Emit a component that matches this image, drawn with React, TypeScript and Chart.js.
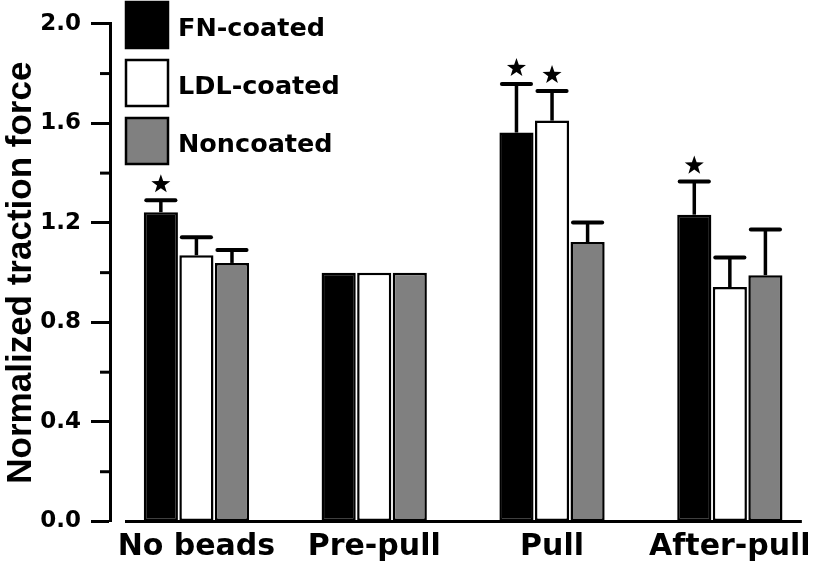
import React, { useEffect, useRef } from "react";
import { Chart, registerables } from "chart.js";

Chart.register(...registerables);

const categories = ["No beads", "Pre-pull", "Pull", "After-pull"];
const seriesNames = ["FN-coated", "LDL-coated", "Noncoated"];
const fnValues = [1.243, 1.0, 1.563, 1.233];
const ldlValues = [1.07, 1.0, 1.611, 0.942];
const nonValues = [1.039, 1.0, 1.123, 0.99];
const fnErrors = [0.048, 0, 0.195, 0.133];
const ldlErrors = [0.072, 0, 0.119, 0.119];
const nonErrors = [0.052, 0, 0.079, 0.183];
const fnStars = [true, false, true, true];
const ldlStars = [false, false, true, false];
const nonStars = [false, false, false, false];
const yTicks = [0, 0.4, 0.8, 1.2, 1.6, 2.0];
const yMinorTicks = [0.2, 0.6, 1.0, 1.4, 1.8];
const fillColors = ["#000000", "#ffffff", "#808080"];

const seriesValues = [fnValues, ldlValues, nonValues];
const seriesErrors = [fnErrors, ldlErrors, nonErrors];
const seriesStars = [fnStars, ldlStars, nonStars];

const FONT = "'DejaVu Sans', sans-serif";

function drawStar(ctx: CanvasRenderingContext2D, cx: number, cy: number, r: number) {
  const inner = r * 0.4;
  ctx.beginPath();
  for (let k = 0; k < 10; k++) {
    const rad = k % 2 === 0 ? r : inner;
    const a = -Math.PI / 2 + (k * Math.PI) / 5;
    const px = cx + rad * Math.cos(a);
    const py = cy + rad * Math.sin(a);
    if (k === 0) ctx.moveTo(px, py);
    else ctx.lineTo(px, py);
  }
  ctx.closePath();
  ctx.fill();
}

const decorPlugin = {
  id: "decor",
  afterDatasetsDraw(chart: any) {
    const { ctx, chartArea, scales } = chart;
    const yScale = scales.y;
    const y0 = yScale.getPixelForValue(0);
    ctx.save();
    ctx.strokeStyle = "#000";
    ctx.fillStyle = "#000";

    // error bars and stars
    seriesValues.forEach((vals, di) => {
      const meta = chart.getDatasetMeta(di);
      meta.data.forEach((el: any, j: number) => {
        const err = seriesErrors[di][j];
        const topY = yScale.getPixelForValue(vals[j] + err);
        const half = el.width / 2;
        if (err > 0) {
          ctx.lineCap = "butt";
          ctx.lineWidth = 3.5;
          ctx.beginPath();
          ctx.moveTo(el.x, el.y);
          ctx.lineTo(el.x, topY);
          ctx.stroke();
          ctx.lineCap = "round";
          ctx.lineWidth = 4;
          ctx.beginPath();
          ctx.moveTo(el.x - half + 2.5, topY);
          ctx.lineTo(el.x + half - 2.5, topY);
          ctx.stroke();
        }
        if (seriesStars[di][j]) {
          drawStar(ctx, el.x, topY - 16, 10);
        }
      });
    });

    // x axis line
    ctx.lineCap = "butt";
    ctx.lineWidth = 3;
    ctx.beginPath();
    ctx.moveTo(chartArea.left + 15, y0);
    ctx.lineTo(chartArea.right, y0);
    ctx.stroke();

    // minor y ticks
    yMinorTicks.forEach((v) => {
      const y = yScale.getPixelForValue(v);
      ctx.beginPath();
      ctx.moveTo(chartArea.left - 10, y);
      ctx.lineTo(chartArea.left, y);
      ctx.stroke();
    });

    // legend
    const bx = chartArea.left + 16;
    ctx.font = `bold 25.5px ${FONT}`;
    ctx.textAlign = "left";
    ctx.textBaseline = "alphabetic";
    seriesNames.forEach((name, i) => {
      const by = 2 + i * 58;
      ctx.fillStyle = fillColors[i];
      ctx.fillRect(bx, by, 42, 46);
      ctx.lineWidth = 2.5;
      ctx.strokeStyle = "#000";
      ctx.strokeRect(bx, by, 42, 46);
      ctx.fillStyle = "#000";
      ctx.fillText(name, bx + 52, by + 34);
    });
    ctx.restore();
  },
};

export default function App() {
  const ref = useRef<HTMLCanvasElement | null>(null);
  useEffect(() => {
    if (!ref.current) return;
    const chart = new Chart(ref.current, {
      type: "bar",
      data: {
        datasets: seriesNames.map((name, i) => ({
          label: name,
          data: seriesValues[i].map((v, j) => ({ x: j, y: v })),
          backgroundColor: fillColors[i],
          borderColor: "#000",
          borderWidth: 2.5,
          borderSkipped: false,
          categoryPercentage: 0.6,
          barPercentage: 0.96,
        })),
      },
      options: {
        responsive: false,
        animation: false,
        devicePixelRatio: 1,
        layout: { padding: { top: 21.5, right: 13, left: 0, bottom: 0 } },
        plugins: { legend: { display: false }, tooltip: { enabled: false } },
        scales: {
          x: {
            type: "linear",
            offset: false,
            min: -0.486,
            max: 3.405,
            afterBuildTicks: (scale: any) => {
              scale.ticks = categories.map((_, i) => ({ value: i }));
            },
            afterFit: (scale: any) => {
              scale.height = 50.5;
            },
            ticks: {
              callback: (v: any) => categories[v] ?? "",
              autoSkip: false,
              maxRotation: 0,
              padding: 8,
              color: "#000",
              font: { family: FONT, weight: "bold", size: 30 },
            },
            grid: { display: false, drawTicks: false, offset: false },
            border: { display: false },
          },
          y: {
            type: "linear",
            min: 0,
            max: 2,
            afterBuildTicks: (scale: any) => {
              scale.ticks = yTicks.map((v) => ({ value: v }));
            },
            afterFit: (scale: any) => {
              scale.width = 110;
            },
            ticks: {
              callback: (v: any) => Number(v).toFixed(1),
              padding: 10,
              color: "#000",
              font: { family: FONT, weight: "bold", size: 23 },
            },
            grid: {
              drawOnChartArea: false,
              tickLength: 19,
              tickWidth: 3,
              tickColor: "#000",
            },
            border: { display: true, color: "#000", width: 3 },
            title: {
              display: true,
              text: "Normalized traction force",
              color: "#000",
              padding: 0,
              font: { family: "'Liberation Sans', Arial, sans-serif", weight: "bold", size: 35 },
            },
          },
        },
      },
      plugins: [decorPlugin],
    });
    return () => chart.destroy();
  }, []);
  return (
    <div style={{ position: "absolute", left: 0, top: 0, width: 820, height: 572, background: "#fff" }}>
      <canvas ref={ref} width={820} height={572} />
    </div>
  );
}
